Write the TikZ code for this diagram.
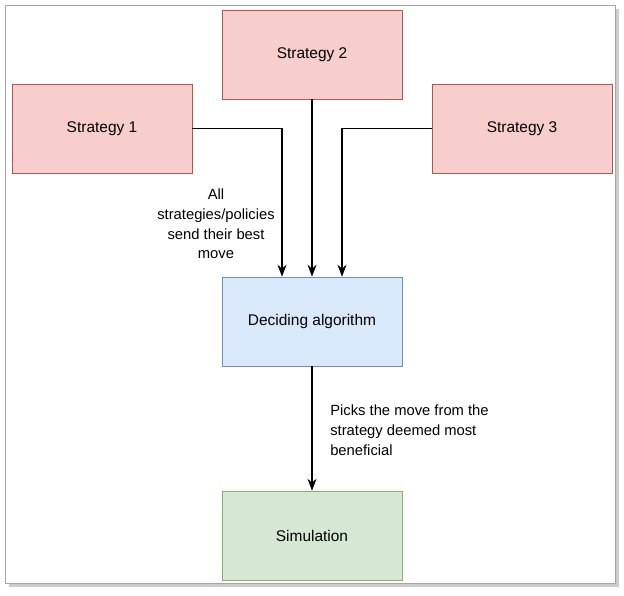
\documentclass[tikz,border=0pt]{standalone}
\usepackage{fontspec}
\setmainfont{Liberation Sans}
\usetikzlibrary{arrows.meta, positioning, shadows}
\definecolor{redfill}{HTML}{F8CECC}
\definecolor{reddraw}{HTML}{B85450}
\definecolor{bluefill}{HTML}{DAE8FC}
\definecolor{bluedraw}{HTML}{6C8EBF}
\definecolor{greenfill}{HTML}{D5E8D4}
\definecolor{greendraw}{HTML}{82B366}
\tikzstyle{strategy} = [rectangle, minimum width=4.5cm, minimum height=2.225cm, text centered, draw=reddraw, fill=redfill, font=\fontsize{11}{13}\selectfont]
\tikzstyle{decide} = [strategy, draw=bluedraw, fill=bluefill]
\tikzstyle{sim} = [strategy, draw=greendraw, fill=greenfill]
\tikzstyle{note} = [font=\fontsize{10.5}{14}\selectfont, inner sep=0pt]
\tikzstyle{arrow} = [thick,-{Stealth[length=3mm]}]

\begin{document}
\begin{tikzpicture}[x=0.025cm, y=-0.025cm]
    \useasboundingbox (0,0) rectangle (624,595);
    \draw[gray!70, fill=white, drop shadow={shadow xshift=1mm, shadow yshift=-1mm, opacity=0.4}] (5,5) rectangle (615,583);

    \node[strategy] (s2) at (312,54.5) {Strategy 2};
    \node[strategy] (s1) at (102,128.5) {Strategy 1};
    \node[strategy] (s3) at (522,128.5) {Strategy 3};
    \node[decide] (decide) at (312,321.5) {Deciding algorithm};
    \node[sim] (sim) at (312,535.5) {Simulation};

    \node[note, align=center] (allnote) at (216,224) {All\\strategies/policies\\send their best\\move};
    \node[note, align=left, anchor=north west] (picknote) at (330,405) {Picks the move from the\\strategy deemed most\\beneficial};

    \draw[arrow] (s1.east) -| ([xshift=-0.75cm]decide.north);
    \draw[arrow] (s2) -- (decide);
    \draw[arrow] (s3.west) -| ([xshift=0.75cm]decide.north);
    \draw[arrow] (decide) -- (sim);
\end{tikzpicture}
\end{document}
